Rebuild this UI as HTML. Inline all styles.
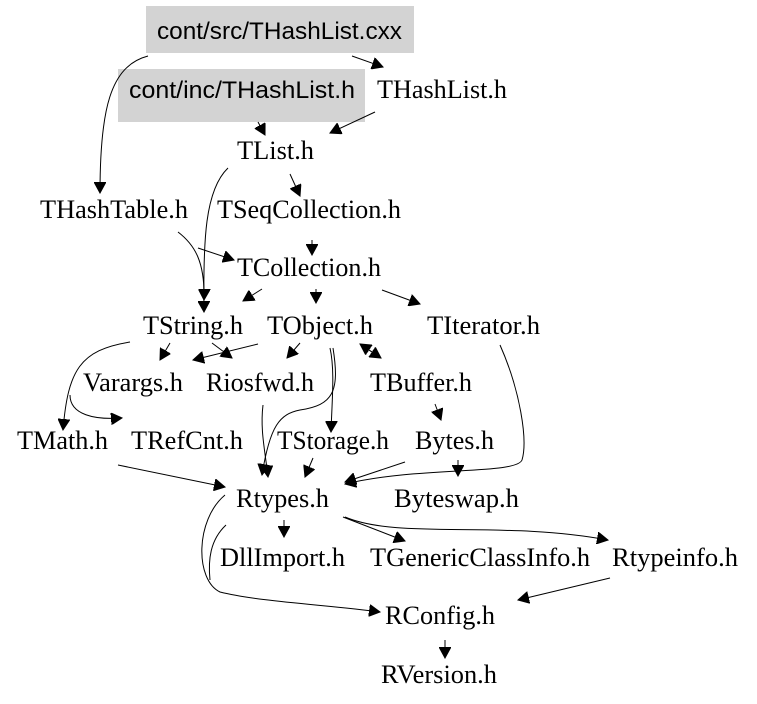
<!DOCTYPE html>
<html><head><meta charset="utf-8"><style>
html,body{margin:0;padding:0;background:#fff;}
svg{display:block;}
text{font-family:"Liberation Serif",serif;font-size:26px;fill:#000;}
text.s{font-family:"Liberation Sans",sans-serif;font-size:24px;}
path{fill:none;stroke:#000;stroke-width:1;}
</style></head><body>
<svg width="757" height="704" viewBox="0 0 757 704" xmlns="http://www.w3.org/2000/svg">
<defs>
<marker id="a" markerUnits="userSpaceOnUse" markerWidth="12" markerHeight="12" refX="11" refY="6" orient="auto">
<path d="M0,0 L11,6 L0,12 Z" style="fill:#000;stroke:#000"/>
</marker>
</defs>
<rect x="146" y="6" width="268" height="47" fill="#d3d3d3"/>
<rect x="118" y="69" width="247" height="53" fill="#d3d3d3"/>

<g marker-end="url(#a)">
<path d="M352,56 L383,67"/>
<path d="M148,56 C110,66 100,110 100,193"/>
<path d="M258,122 L265,135"/>
<path d="M375,112 L330,133"/>
<path d="M290,174 L300,196"/>
<path d="M228,168 C205,190 203,240 204,312"/>
<path d="M178,232 C195,245 205,262 204,300"/>
<path d="M198,248 L234,260"/>
<path d="M312,240 L312,255"/>
<path d="M262,289 L243,301"/>
<path d="M316,289 L316,303"/>
<path d="M382,290 L420,304"/>
<path d="M170,343 L160,360"/>
<path d="M212,343 L232,358"/>
<path d="M258,344 L193,360"/>
<path d="M300,343 L287,358"/>
<path d="M360,344 L381,358"/>
<path d="M381,358 L360,344"/>
<path d="M130,342 C80,350 68,370 63,430"/>
<path d="M70,395 C70,415 95,420 122,418"/>
<path d="M330,348 C335,370 332,400 331,432"/>
<path d="M333,348 C340,392 333,405 300,410 C280,414 270,425 262,475"/>
<path d="M263,405 C260,430 265,450 268,477"/>
<path d="M313,458 L305,477"/>
<path d="M118,465 L225,487"/>
<path d="M405,462 L345,482"/>
<path d="M500,345 C520,390 528,440 522,460 C516,475 420,466 345,484"/>
<path d="M458,460 L458,476"/>
<path d="M435,404 L441,420"/>
<path d="M284,520 L284,537"/>
<path d="M343,517 L405,541"/>
<path d="M345,517 C400,540 500,520 608,540"/>
<path d="M225,495 C195,520 195,580 220,592 C260,602 330,605 380,612"/>
<path d="M610,578 L518,600"/>
<path d="M445,640 L445,658"/>
</g>
<path d="M226,525 C210,540 208,560 210,580"/>

<text class="s" x="157" y="39" textLength="245" lengthAdjust="spacingAndGlyphs">cont/src/THashList.cxx</text>
<text class="s" x="129" y="98" textLength="226" lengthAdjust="spacingAndGlyphs">cont/inc/THashList.h</text>
<text x="377" y="98" textLength="130" lengthAdjust="spacingAndGlyphs">THashList.h</text>
<text x="237" y="159" textLength="77" lengthAdjust="spacingAndGlyphs">TList.h</text>
<text x="40" y="218" textLength="148" lengthAdjust="spacingAndGlyphs">THashTable.h</text>
<text x="217" y="218" textLength="184" lengthAdjust="spacingAndGlyphs">TSeqCollection.h</text>
<text x="237" y="276" textLength="144" lengthAdjust="spacingAndGlyphs">TCollection.h</text>
<text x="143" y="334" textLength="100" lengthAdjust="spacingAndGlyphs">TString.h</text>
<text x="267" y="334" textLength="106" lengthAdjust="spacingAndGlyphs">TObject.h</text>
<text x="427" y="334" textLength="113" lengthAdjust="spacingAndGlyphs">TIterator.h</text>
<text x="83" y="391" textLength="100" lengthAdjust="spacingAndGlyphs">Varargs.h</text>
<text x="206" y="391" textLength="108" lengthAdjust="spacingAndGlyphs">Riosfwd.h</text>
<text x="370" y="391" textLength="102" lengthAdjust="spacingAndGlyphs">TBuffer.h</text>
<text x="17" y="449" textLength="91" lengthAdjust="spacingAndGlyphs">TMath.h</text>
<text x="131" y="449" textLength="112" lengthAdjust="spacingAndGlyphs">TRefCnt.h</text>
<text x="277" y="449" textLength="112" lengthAdjust="spacingAndGlyphs">TStorage.h</text>
<text x="415" y="449" textLength="79" lengthAdjust="spacingAndGlyphs">Bytes.h</text>
<text x="236" y="507" textLength="93" lengthAdjust="spacingAndGlyphs">Rtypes.h</text>
<text x="394" y="507" textLength="125" lengthAdjust="spacingAndGlyphs">Byteswap.h</text>
<text x="220" y="566" textLength="125" lengthAdjust="spacingAndGlyphs">DllImport.h</text>
<text x="370" y="566" textLength="220" lengthAdjust="spacingAndGlyphs">TGenericClassInfo.h</text>
<text x="612" y="566" textLength="126" lengthAdjust="spacingAndGlyphs">Rtypeinfo.h</text>
<text x="385" y="624" textLength="110" lengthAdjust="spacingAndGlyphs">RConfig.h</text>
<text x="381" y="683" textLength="116" lengthAdjust="spacingAndGlyphs">RVersion.h</text>
</svg>
</body></html>
